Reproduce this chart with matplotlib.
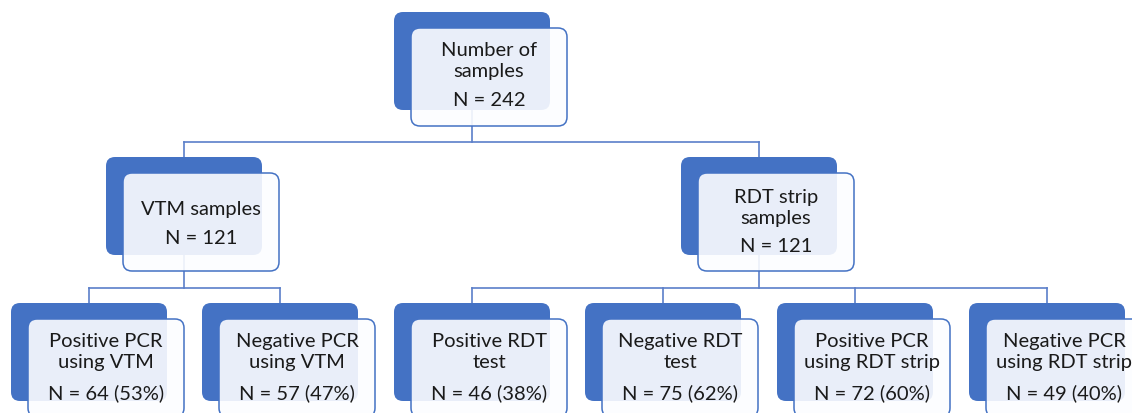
import matplotlib.pyplot as plt
from matplotlib.patches import FancyBboxPatch

plt.rcParams['font.family'] = ['Lato', 'DejaVu Sans']

# data
top_title = 'Number of\nsamples'
top_n = 242
group_titles = ['VTM samples', 'RDT strip\nsamples']
group_n = [121, 121]
leaf_titles = ['Positive PCR\nusing VTM', 'Negative PCR\nusing VTM',
               'Positive RDT\ntest', 'Negative RDT\ntest',
               'Positive PCR\nusing RDT strip', 'Negative PCR\nusing RDT strip']
leaf_n = [64, 57, 46, 75, 72, 49]
leaf_pct = [53, 47, 38, 62, 60, 40]
leaf_parent = [0, 0, 1, 1, 1, 1]

blue = '#4472C4'
line_c = '#5B7FC9'
front_fc = (0.99, 0.992, 1.0, 0.9)

fig = plt.figure(figsize=(11.32, 4.13), dpi=100)
ax = fig.add_axes([0, 0, 1, 1])
ax.set_xlim(0, 1132)
ax.set_ylim(413, 0)
ax.axis('off')

W, H = 156, 98      # box size (pixels)
DX, DY = 17, 16     # offset of front box


def box(x, y, title, ntext, ty, ny, fs=14.5):
    back = FancyBboxPatch((x, y), W, H, boxstyle='round,pad=0,rounding_size=9',
                          fc=blue, ec='none', zorder=2)
    front = FancyBboxPatch((x + DX, y + DY), W, H, boxstyle='round,pad=0,rounding_size=9',
                           fc=front_fc, ec=blue, lw=1.1, zorder=3)
    ax.add_patch(back)
    ax.add_patch(front)
    cx = x + DX + W / 2
    ax.text(cx, ty, title, ha='center', va='center', fontsize=fs,
            color='#1a1a1a', linespacing=1.3, zorder=4)
    ax.text(cx, ny, ntext, ha='center', va='center', fontsize=fs,
            color='#1a1a1a', zorder=4)


def conn(px, py, xs, yh, yc):
    ax.plot([px, px], [py, yh], color=line_c, lw=1.2, zorder=1.5)
    ax.plot([min(xs), max(xs)], [yh, yh], color=line_c, lw=1.2, zorder=1.5)
    for xc in xs:
        ax.plot([xc, xc], [yh, yc], color=line_c, lw=1.2, zorder=1.5)


# layout
top_x, top_y = 394, 12
group_x = [106, 681]
group_y = 157
leaf_x = [11, 202, 394, 585, 777, 969]
leaf_y = 303

# connectors
conn(top_x + W / 2, top_y + H, [gx + W / 2 for gx in group_x], 142, group_y)
for gi, gx in enumerate(group_x):
    xs = [leaf_x[i] + W / 2 for i in range(len(leaf_x)) if leaf_parent[i] == gi]
    conn(gx + W / 2, group_y + H, xs, 288, leaf_y)

# boxes
box(top_x, top_y, top_title, f'N = {top_n}', 61, 101)
box(group_x[0], group_y, group_titles[0], f'N = {group_n[0]}', 209, 238)
box(group_x[1], group_y, group_titles[1], f'N = {group_n[1]}', 208, 247)
for i, lx in enumerate(leaf_x):
    box(lx, leaf_y, leaf_titles[i], f'N = {leaf_n[i]} ({leaf_pct[i]}%)', 352, 393)

plt.savefig('out.png', dpi=100)
